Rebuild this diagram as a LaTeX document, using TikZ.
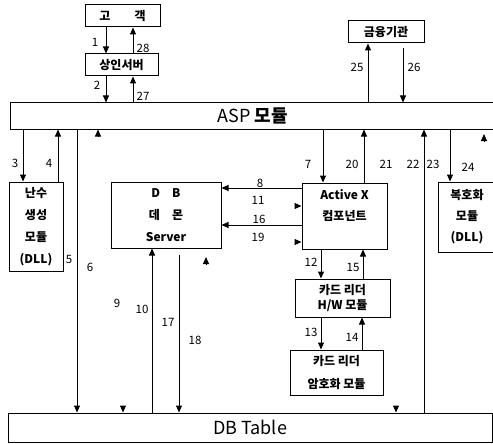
\documentclass[tikz,border=0pt]{standalone}
\usepackage{fontspec}
\setmainfont{Noto Sans CJK KR}
\usetikzlibrary{arrows.meta}
\begin{document}
\begin{tikzpicture}[x=1pt,y=-1pt,
    >={Triangle[length=7pt,width=6pt]},
    box/.style={draw,line width=1pt,inner sep=0pt,align=center,font=\bfseries\fontsize{12}{22}\selectfont},
    bar/.style={draw,line width=1pt,inner sep=0pt,font=\fontsize{18}{20}\selectfont},
    flow/.style={->,line width=1pt},
    num/.style={font=\fontsize{11.5}{13}\selectfont,inner sep=0pt}]
    \useasboundingbox (0,0) rectangle (493,444);
    \clip (0,0) rectangle (493,444);
    % boxes
    \node[box,minimum width=75pt,minimum height=22pt] (cust) at (122.5,16) {고\quad\quad 객};
    \node[box,minimum width=73pt,minimum height=22pt] (merch) at (121.5,65) {상인서버};
    \node[box,minimum width=76pt,minimum height=22pt] (bank) at (386,32) {금융기관};
    \node[bar,minimum width=486pt,minimum height=26pt] (asp) at (253,116) {ASP {\bfseries 모듈}};
    \node[box,minimum width=54pt,minimum height=89pt] (rng) at (36,226.5) {난수\\생성\\모듈\\(DLL)};
    \node[box,minimum width=110pt,minimum height=66pt] (dbd) at (166,215) {D\quad B\\데\quad 몬\\Server};
    \node[box,minimum width=85pt,minimum height=66pt,font=\bfseries\fontsize{12}{21}\selectfont] (actx) at (344.5,216) {Active X\\컴포넌트\\~};
    \node[box,minimum width=58pt,minimum height=70pt,font=\bfseries\fontsize{12}{21}\selectfont] (dec) at (467,217) {복호화\\모듈\\(DLL)};
    \node[box,minimum width=95pt,minimum height=38pt,font=\bfseries\fontsize{12}{15}\selectfont] (hw) at (342.5,298) {카드 리더\\H/W 모듈};
    \node[box,minimum width=93pt,minimum height=45pt,font=\bfseries\fontsize{12}{23}\selectfont] (enc) at (336.5,372.5) {카드 리더\\암호화 모듈};
    \node[bar,minimum width=484pt,minimum height=29pt] (dbt) at (250,427.5) {DB Table};
    % top
    \draw[flow] (106,0 |- cust.south) -- (106,0 |- merch.north);
    \draw[flow] (133,0 |- merch.north) -- (133,0 |- cust.south);
    \draw[flow] (106,0 |- merch.south) -- (106,0 |- asp.north);
    \draw[flow] (133,0 |- asp.north) -- (133,0 |- merch.south);
    \draw[flow] (368,0 |- asp.north) -- (368,0 |- bank.south);
    \draw[flow,shorten <=5pt] (403,0 |- bank.south) -- (403,0 |- asp.north);
    \node[num] (n1) at (95,42) {1};
    \node[num] (n28) at (143,48) {28};
    \node[num] (n2) at (97,85) {2};
    \node[num] (n27) at (143,96) {27};
    \node[num] (n25) at (357,67) {25};
    \node[num] (n26) at (414,67) {26};
    % left side
    \draw[flow] (23,0 |- asp.south) -- (23,0 |- rng.north);
    \draw[flow] (58,0 |- rng.north) -- (58,0 |- asp.south);
    \draw[flow] (77,0 |- asp.south) -- (77,0 |- dbt.north);
    \draw[flow] (98,136) -- (98,0 |- asp.south);
    \node[num] (n3) at (15,163) {3};
    \node[num] (n4) at (49,163) {4};
    \node[num] (n5) at (69,259) {5};
    \node[num] (n6) at (90,267) {6};
    % db daemon
    \draw[flow] (152,0 |- dbt.north) -- (152,0 |- dbd.south);
    \draw[flow,shorten <=6pt] (179,0 |- dbd.south) -- (179,0 |- dbt.north);
    \draw[flow] (206,264) -- (206,257);
    \draw[flow] (123,406) -- (123,0 |- dbt.north);
    \node[num] (n9) at (117,303) {9};
    \node[num] (n10) at (142,309) {10};
    \node[num] (n17) at (168,322) {17};
    \node[num] (n18) at (195,340) {18};
    % db daemon <-> active x
    \draw[flow] (actx.west |- 0,188) -- (dbd.east |- 0,188);
    \draw[flow] (actx.west |- 0,225) -- (dbd.east |- 0,225);
    \draw[flow] (295,206) -- (actx.west |- 0,206);
    \draw[flow] (295,242) -- (actx.west |- 0,242);
    \node[num] (n8) at (260,183) {8};
    \node[num] (n11) at (258,200) {11};
    \node[num] (n16) at (259,219) {16};
    \node[num] (n19) at (258,237) {19};
    % active x
    \draw[flow] (323,0 |- asp.south) -- (323,0 |- actx.north);
    \draw[flow] (364,0 |- actx.north) -- (364,0 |- asp.south);
    \draw[flow] (321,0 |- actx.south) -- (321,0 |- hw.north);
    \draw[flow] (363,0 |- hw.north) -- (363,0 |- actx.south);
    \draw[flow] (321,0 |- hw.south) -- (321,0 |- enc.north);
    \draw[flow] (362,0 |- enc.north) -- (362,0 |- hw.south);
    \node[num] (n7) at (308,164) {7};
    \node[num] (n20) at (352,164) {20};
    \node[num] (n12) at (311,262) {12};
    \node[num] (n15) at (353,267) {15};
    \node[num] (n13) at (311,332) {13};
    \node[num] (n14) at (352,337) {14};
    % right side
    \draw[flow] (424,0 |- dbt.north) -- (424,0 |- asp.south);
    \draw[flow] (450,0 |- asp.south) -- (450,0 |- dec.north);
    \draw[flow] (396,406) -- (396,0 |- dbt.north);
    \draw[flow] (484,141) -- (484,134);
    \node[num] (n21) at (386,164) {21};
    \node[num] (n22) at (413,164) {22};
    \node[num] (n23) at (433,164) {23};
    \node[num] (n24) at (468,167) {24};
\end{tikzpicture}
\end{document}
